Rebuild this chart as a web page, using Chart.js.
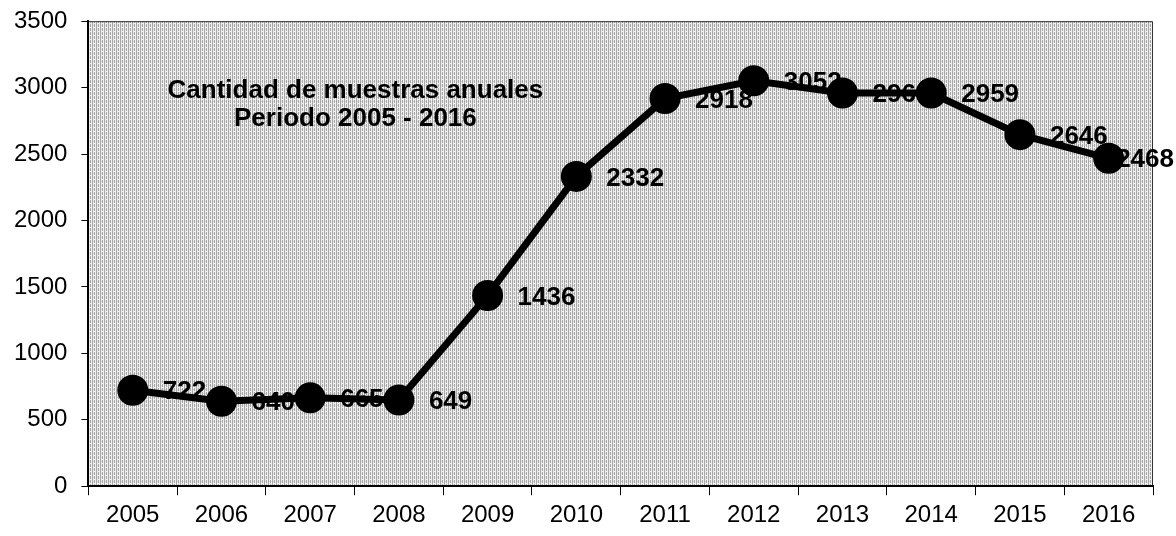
<!DOCTYPE html>
<html>
<head>
<meta charset="utf-8">
<script src="https://cdn.jsdelivr.net/npm/chart.js@4/dist/chart.umd.min.js"></script>
<style>
  html, body { margin: 0; padding: 0; background: #fff; }
  #wrap { width: 1176px; height: 536px; }
</style>
</head>
<body>
<div id="wrap"><canvas id="chart"></canvas></div>
<script>
let years = ["2005", "2006", "2007", "2008", "2009", "2010", "2011", "2012", "2013", "2014", "2015", "2016"];
let samples = [722, 640, 665, 649, 1436, 2332, 2918, 3052, 2960, 2959, 2646, 2468];
let yTicks = [0, 500, 1000, 1500, 2000, 2500, 3000, 3500];
let titleLines = ["Cantidad de muestras anuales", "Periodo 2005 - 2016"];

let ctx = document.getElementById("chart");

function makePattern() {
    let c = document.createElement("canvas");
    c.width = 4;
    c.height = 4;
    let g = c.getContext("2d");
    g.fillStyle = "#efefef";
    g.fillRect(0, 0, 4, 4);
    g.fillStyle = "#a8a8a8";
    g.fillRect(0, 0, 1, 4);
    g.fillRect(2, 0, 1, 3);
    g.fillStyle = "#d4d4d4";
    g.fillRect(1, 1, 1, 1);
    return g.createPattern(c, "repeat");
}

let plotBg = {
    id: "plotBg",
    beforeDraw(chart) {
        let a = chart.chartArea;
        let g = chart.ctx;
        g.save();
        g.fillStyle = makePattern();
        g.fillRect(a.left, a.top, a.right - a.left, a.bottom - a.top);
        g.strokeStyle = "#333";
        g.lineWidth = 1;
        g.beginPath();
        g.moveTo(a.left, a.top + 0.5);
        g.lineTo(a.right - 0.5, a.top + 0.5);
        g.lineTo(a.right - 0.5, a.bottom);
        g.stroke();
        g.restore();
    }
};

let pointLabels = {
    id: "pointLabels",
    beforeDatasetsDraw(chart) {
        let g = chart.ctx;
        let meta = chart.getDatasetMeta(0);
        g.save();
        g.font = "bold 26px 'Liberation Sans', Arial, sans-serif";
        g.fillStyle = "#000";
        g.textAlign = "left";
        g.textBaseline = "middle";
        meta.data.forEach((pt, i) => {
            let txt = String(samples[i]);
            let w = g.measureText(txt).width;
            let x = Math.min(pt.x + 30, 1174 - w);
            g.fillText(txt, x, pt.y + 2);
        });
        g.restore();
    },
    afterDraw(chart) {
        let a = chart.chartArea;
        let g = chart.ctx;
        g.save();
        g.font = "bold 26px 'Liberation Sans', Arial, sans-serif";
        g.fillStyle = "#000";
        g.textAlign = "center";
        g.textBaseline = "middle";
        g.fillText(titleLines[0], a.left + 267, a.top + 70);
        g.fillText(titleLines[1], a.left + 267, a.top + 98);
        g.restore();
    }
};

new Chart(ctx, {
    type: "line",
    data: {
        labels: years,
        datasets: [{
            label: "Muestras",
            data: samples,
            borderColor: "#000",
            borderWidth: 7,
            pointRadius: 12,
            pointHoverRadius: 12,
            pointBackgroundColor: "#000",
            pointBorderColor: "#000",
            tension: 0,
            fill: false
        }]
    },
    options: {
        responsive: true,
        maintainAspectRatio: false,
        animation: false,
        events: [],
        layout: { padding: { left: 0, right: 23, top: 4, bottom: 0 } },
        plugins: {
            legend: { display: false },
            tooltip: { enabled: false }
        },
        scales: {
            x: {
                offset: true,
                grid: { offset: true, drawOnChartArea: false, drawTicks: true, tickLength: 9, color: "#000", lineWidth: 1 },
                border: { display: true, color: "#000", width: 2 },
                ticks: { color: "#000", padding: 6, font: { size: 24, family: "'Liberation Sans', Arial, sans-serif" } }
            },
            y: {
                min: 0,
                max: 3500,
                afterBuildTicks(axis) {
                    axis.ticks = yTicks.map(v => ({ value: v }));
                },
                grid: { drawOnChartArea: false, drawTicks: true, tickLength: 7, color: "#000", lineWidth: 1 },
                border: { display: true, color: "#000", width: 2 },
                ticks: {
                    color: "#000",
                    padding: 14,
                    font: { size: 24, lineHeight: 0.6, family: "'Liberation Sans', Arial, sans-serif" },
                    callback: v => String(v)
                }
            }
        }
    },
    plugins: [plotBg, pointLabels]
});
</script>
</body>
</html>
